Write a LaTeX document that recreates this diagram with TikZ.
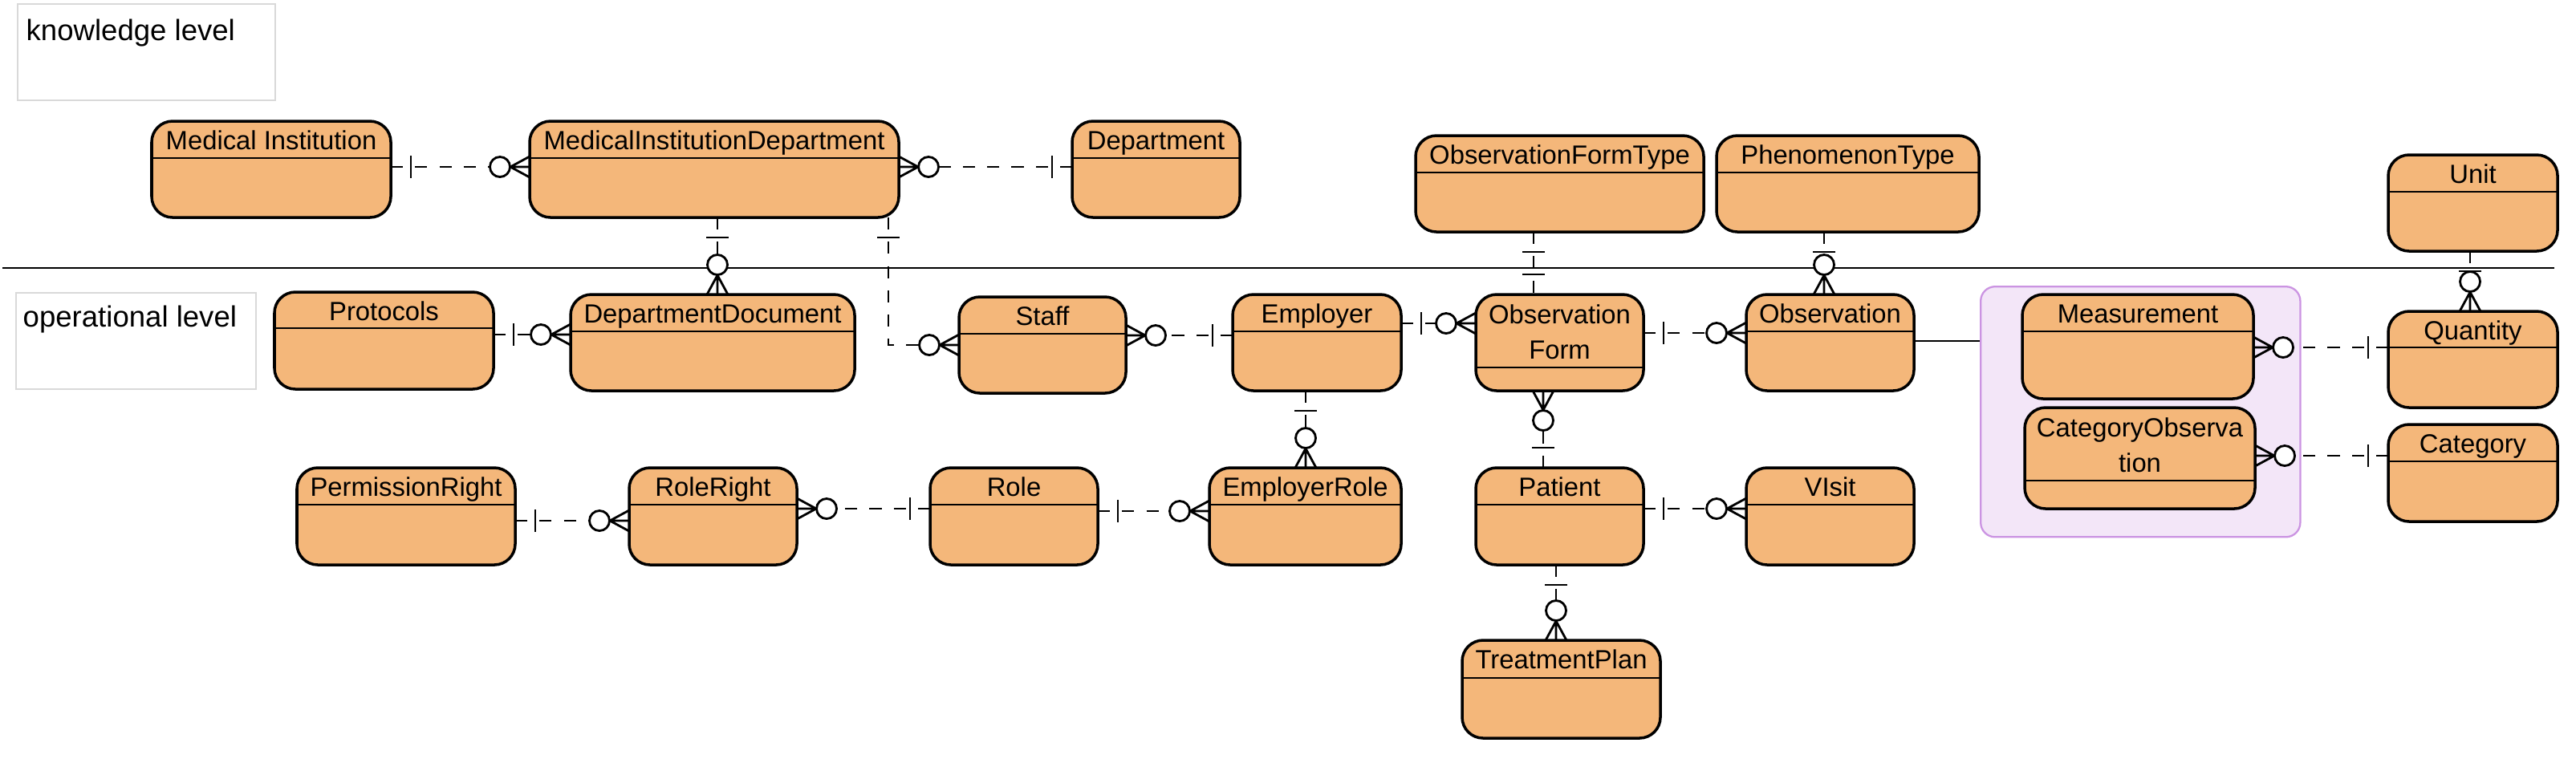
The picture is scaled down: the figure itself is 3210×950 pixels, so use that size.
\documentclass[tikz,border=0pt]{standalone}
\usepackage{fontspec}
\setmainfont{Liberation Sans}
\usetikzlibrary{calc}
\definecolor{entfill}{RGB}{244,183,122}
\definecolor{grpfill}{RGB}{243,230,248}
\definecolor{grpdraw}{RGB}{203,148,226}
\definecolor{lblgray}{RGB}{217,217,217}
\tikzset{
 entity/.style={draw=black, line width=1pt, fill=entfill, rounded corners=0.26cm, inner sep=0pt, outer sep=0pt},
 hdr/.style={line width=0.6pt},
 etext/.style={anchor=base, inner sep=0pt, font=\fontsize{9.33}{12.5}\selectfont, align=center},
 rel/.style={line width=0.8pt, dash pattern=on 4.3pt off 4.3pt},
 solidrel/.style={line width=0.65pt},
 sym/.style={line width=0.8pt, solid},
 onebar/.pic={\draw[sym] (25,-14) -- (25,14);},
 zmany/.pic={\draw[sym] (24,0) -- (0,13) (24,0) -- (0,0) (24,0) -- (0,-13); \draw[sym, fill=white] (37,0) circle[radius=0.125cm];},
 lbl/.style={draw=lblgray, line width=0.6pt, fill=white, inner sep=0pt, anchor=north west},
 ltext/.style={anchor=base west, inner sep=0pt, font=\fontsize{10.4}{12}\selectfont},
 sepline/.style={line width=0.65pt},
 grpbox/.style={draw=grpdraw, fill=grpfill, line width=0.65pt, rounded corners=0.18cm, inner sep=0pt, anchor=north west},
}
% #1 name, #2 x1, #3 y1, #4 x2, #5 y2, #6 header height, #7 baseline of last text line (from top), #8 text
\newcommand\entbox[8]{%
 \pgfmathsetmacro\entw{(#4-#2)*0.01}%
 \pgfmathsetmacro\enth{(#5-#3)*0.01}%
 \node[entity, minimum width=\entw cm, minimum height=\enth cm, anchor=north west] (#1) at (#2,#3) {};
 \draw[hdr] ($(#1.north west)+(0,#6)$) -- ($(#1.north east)+(0,#6)$);
 \node[etext] (#1-t) at ($(#1.north)+(0,#7)$) {#8};
}
\begin{document}
\begin{tikzpicture}[x=0.01cm, y=-0.01cm]
\useasboundingbox (0,0) rectangle (3210,950);
% level labels
\node[lbl, minimum width=3.21cm, minimum height=1.2cm] (kbox) at (21,4) {};
\node[ltext] (ktext) at (32,50) {knowledge level};
\node[lbl, minimum width=2.99cm, minimum height=1.2cm] (obox) at (19,364) {};
\node[ltext] (otext) at (28,407) {operational level};
% separator
\draw[sepline] (3,334) -- (3183,334);
% group
\node[grpbox, minimum width=3.98cm, minimum height=3.12cm] (grp) at (2467,356) {};
% entities
\entbox{mi}{189}{151}{487}{271}{46}{35}{Medical Institution}
\entbox{mid}{660}{151}{1120}{271}{46}{35}{MedicalInstitutionDepartment}
\entbox{dept}{1336}{151}{1545}{271}{46}{35}{Department}
\entbox{oft}{1764}{169}{2123}{289}{46}{35}{ObservationFormType}
\entbox{pt}{2139}{169}{2466}{289}{46}{35}{PhenomenonType}
\entbox{unit}{2976}{193}{3187}{313}{46}{35}{Unit}
\entbox{prot}{342}{364}{615}{485}{45}{35}{Protocols}
\entbox{dd}{711}{367}{1065}{487}{46}{35}{DepartmentDocument}
\entbox{staff}{1195}{370}{1403}{490}{46}{35}{Staff}
\entbox{emp}{1536}{367}{1746}{487}{46}{35}{Employer}
\entbox{of}{1839}{367}{2048}{487}{91}{80}{Observation\\Form}
\entbox{obs}{2176}{367}{2385}{487}{46}{35}{Observation}
\entbox{meas}{2520}{367}{2808}{497}{46}{35}{Measurement}
\entbox{qty}{2976}{388}{3187}{508}{45}{35}{Quantity}
\entbox{co}{2523}{508}{2810}{634}{91}{80}{CategoryObserva\\tion}
\entbox{cat}{2976}{529}{3187}{650}{46}{35}{Category}
\entbox{pr}{370}{583}{642}{704}{46}{35}{PermissionRight}
\entbox{rr}{784}{583}{993}{704}{46}{35}{RoleRight}
\entbox{role}{1159}{583}{1368}{704}{46}{35}{Role}
\entbox{er}{1507}{583}{1746}{704}{46}{35}{EmployerRole}
\entbox{pat}{1839}{583}{2048}{704}{46}{35}{Patient}
\entbox{visit}{2176}{583}{2385}{704}{46}{35}{VIsit}
\entbox{tp}{1822}{798}{2069}{920}{47}{35}{TreatmentPlan}
% connectors
% MI - MID
\draw[rel] (mi.east |- 0,208) -- (mid.west |- 0,208);
\pic[rotate=0] at (mi.east |- 0,208) {onebar};
\pic[rotate=180] at (mid.west |- 0,208) {zmany};
% Department - MID
\draw[rel] (dept.west |- 0,208) -- (mid.east |- 0,208);
\pic[rotate=180] at (dept.west |- 0,208) {onebar};
\pic[rotate=0] at (mid.east |- 0,208) {zmany};
% MID - DepartmentDocument
\draw[rel] (mid.south -| 894,0) -- (dd.north -| 894,0);
\pic[rotate=-90] at (mid.south -| 894,0) {onebar};
\pic[rotate=90] at (dd.north -| 894,0) {zmany};
% MID - Staff
\draw[rel] (mid.south -| 1107,0) |- (staff.west |- 0,430);
\pic[rotate=-90] at (mid.south -| 1107,0) {onebar};
\pic[rotate=180] at (staff.west |- 0,430) {zmany};
% Protocols - DepartmentDocument
\draw[rel] (prot.east |- 0,417) -- (dd.west |- 0,417);
\pic[rotate=0] at (prot.east |- 0,417) {onebar};
\pic[rotate=180] at (dd.west |- 0,417) {zmany};
% Employer - Staff
\draw[rel] (emp.west |- 0,418) -- (staff.east |- 0,418);
\pic[rotate=180] at (emp.west |- 0,418) {onebar};
\pic[rotate=0] at (staff.east |- 0,418) {zmany};
% Employer - ObservationForm
\draw[rel] (emp.east |- 0,403) -- (of.west |- 0,403);
\pic[rotate=0] at (emp.east |- 0,403) {onebar};
\pic[rotate=180] at (of.west |- 0,403) {zmany};
% ObservationFormType - ObservationForm
\draw[rel] (oft.south -| 1911,0) -- (of.north -| 1911,0);
\pic[rotate=-90] at (oft.south -| 1911,0) {onebar};
\pic[rotate=90] at (of.north -| 1911,0) {onebar};
% ObservationForm - Observation
\draw[rel] (of.east |- 0,415) -- (obs.west |- 0,415);
\pic[rotate=0] at (of.east |- 0,415) {onebar};
\pic[rotate=180] at (obs.west |- 0,415) {zmany};
% PhenomenonType - Observation
\draw[rel] (pt.south -| 2273,0) -- (obs.north -| 2273,0);
\pic[rotate=-90] at (pt.south -| 2273,0) {onebar};
\pic[rotate=90] at (obs.north -| 2273,0) {zmany};
% Observation - group
\draw[solidrel] (obs.east |- 0,425) -- (grp.west |- 0,425);
% Quantity - Measurement
\draw[rel] (qty.west |- 0,433) -- (meas.east |- 0,433);
\pic[rotate=180] at (qty.west |- 0,433) {onebar};
\pic[rotate=0] at (meas.east |- 0,433) {zmany};
% Unit - Quantity
\draw[rel] (unit.south -| 3078,0) -- (qty.north -| 3078,0);
\pic[rotate=-90] at (unit.south -| 3078,0) {onebar};
\pic[rotate=90] at (qty.north -| 3078,0) {zmany};
% Category - CategoryObservation
\draw[rel] (cat.west |- 0,568) -- (co.east |- 0,568);
\pic[rotate=180] at (cat.west |- 0,568) {onebar};
\pic[rotate=0] at (co.east |- 0,568) {zmany};
% Employer - EmployerRole
\draw[rel] (emp.south -| 1627,0) -- (er.north -| 1627,0);
\pic[rotate=-90] at (emp.south -| 1627,0) {onebar};
\pic[rotate=90] at (er.north -| 1627,0) {zmany};
% Patient - ObservationForm
\draw[rel] (pat.north -| 1923,0) -- (of.south -| 1923,0);
\pic[rotate=90] at (pat.north -| 1923,0) {onebar};
\pic[rotate=-90] at (of.south -| 1923,0) {zmany};
% Patient - VIsit
\draw[rel] (pat.east |- 0,634) -- (visit.west |- 0,634);
\pic[rotate=0] at (pat.east |- 0,634) {onebar};
\pic[rotate=180] at (visit.west |- 0,634) {zmany};
% Patient - TreatmentPlan
\draw[rel] (pat.south -| 1939,0) -- (tp.north -| 1939,0);
\pic[rotate=-90] at (pat.south -| 1939,0) {onebar};
\pic[rotate=90] at (tp.north -| 1939,0) {zmany};
% Role - EmployerRole
\draw[rel] (role.east |- 0,637) -- (er.west |- 0,637);
\pic[rotate=0] at (role.east |- 0,637) {onebar};
\pic[rotate=180] at (er.west |- 0,637) {zmany};
% Role - RoleRight
\draw[rel] (role.west |- 0,634) -- (rr.east |- 0,634);
\pic[rotate=180] at (role.west |- 0,634) {onebar};
\pic[rotate=0] at (rr.east |- 0,634) {zmany};
% PermissionRight - RoleRight
\draw[rel] (pr.east |- 0,649) -- (rr.west |- 0,649);
\pic[rotate=0] at (pr.east |- 0,649) {onebar};
\pic[rotate=180] at (rr.west |- 0,649) {zmany};
\end{tikzpicture}
\end{document}
